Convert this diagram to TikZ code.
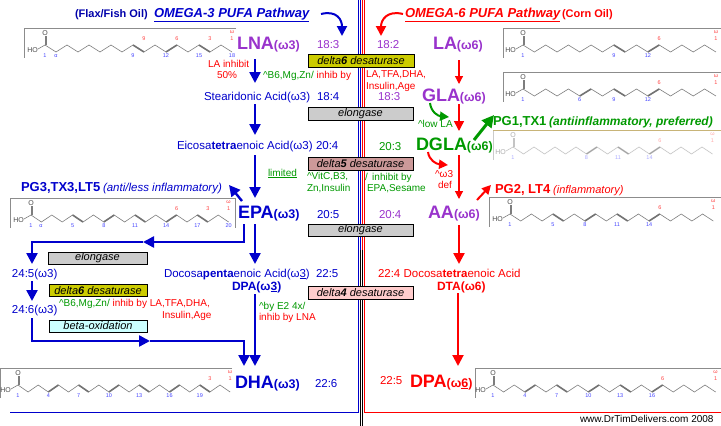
\documentclass[tikz,border=0pt]{standalone}
\usepackage{fontspec}
\setmainfont{Liberation Sans}
\usetikzlibrary{arrows.meta}
\definecolor{cblue}{RGB}{0,0,204}
\definecolor{cnavy}{RGB}{0,0,170}
\definecolor{cpurple}{RGB}{153,51,204}
\definecolor{cgreen}{RGB}{0,153,0}
\definecolor{cred}{RGB}{255,0,0}
\definecolor{dsix}{RGB}{204,204,0}
\definecolor{elong}{RGB}{204,204,204}
\definecolor{dfive}{RGB}{204,153,153}
\definecolor{dfour}{RGB}{255,204,204}
\definecolor{betaox}{RGB}{204,255,255}
\definecolor{bondgray}{RGB}{125,125,125}
\definecolor{molblue}{RGB}{70,70,255}
\definecolor{molred}{RGB}{255,70,70}
\newcommand{\fs}[1]{\fontsize{#1}{#1}\selectfont}
\newcommand{\caret}{\textasciicircum}
\tikzset{
  txt/.style={anchor=base west, inner sep=0pt, outer sep=0pt},
  main/.style={txt, font=\fs{11.5}},
  note/.style={txt, font=\fs{10}},
  enzbox/.style={draw=black, line width=0.8pt, inner sep=0pt, font=\fs{11}\itshape, minimum height=13pt},
  molbox/.style={draw=black!45, line width=0.8pt},
  bond/.style={draw=bondgray, line width=0.6pt},
  dbond/.style={draw=black!55, line width=1.6pt},
  molatom/.style={font=\fs{7}, text=black!70, inner sep=0pt},
  molnumb/.style={font=\fs{5.5}, text=molblue, inner sep=0pt},
  molnumr/.style={font=\fs{5.5}, text=molred, inner sep=0pt},
  bluearr/.style={draw=cblue, line width=2.4pt, -{Triangle[length=11pt,width=11pt]}},
  redthin/.style={draw=cred, line width=1.2pt, -{Triangle[length=8pt,width=8pt]}},
  redthick/.style={draw=cred, line width=2.4pt, -{Triangle[length=11pt,width=11pt]}},
  greenarr/.style={draw=cgreen, line width=2pt, -{Triangle[length=9pt,width=9pt]}},
}
% #1 box x0, #2 box y0, #3 box x1, #4 C1 x, #5 dx, #6 N, #7 double bonds,
% #8 double bonds with omega label, #9 label under last carbon
\newcommand{\fatacid}[9]{%
  \draw[molbox] (#3,#2) -- (#1,#2) -- (#1,#2+30);
  \draw[bond] (#4,#2+17) -- (#4,#2+8);
  \draw[bond] (#4+1.4,#2+17) -- (#4+1.4,#2+8);
  \node[molatom] at (#4,#2+5) {O};
  \draw[bond] (#4,#2+17) -- (#4-7,#2+21);
  \node[molatom, anchor=east] at (#4-7,#2+22) {HO};
  \draw[bond] (#4,#2+17) \foreach \i in {2,...,#6}{ -- ({#4+(\i-1)*#5},{#2+17+7*mod(\i+1,2)}) };
  \foreach \k in {#7}{%
    \draw[dbond] ({#4+(\k-1)*#5},{#2+17+7*mod(\k+1,2)}) -- ({#4+\k*#5},{#2+17+7*mod(\k,2)});
    \node[molnumb] at ({#4+(\k-1)*#5},#2+28) {\k};
  }
  \foreach \k in {#8}{%
    \pgfmathtruncatemacro{\om}{#6-\k}%
    \node[molnumr] at ({#4+\k*#5},#2+11) {\om};
  }
  \node[molnumb] at (#4,#2+28) {1};
  \node[molnumb] at ({#4+(#6-1)*#5},#2+28) {#9};
  \node[molnumr] at ({#4+(#6-1)*#5},#2+4) {ω};
  \node[molnumr] at ({#4+(#6-1)*#5},#2+11) {1};
}
\begin{document}
\begin{tikzpicture}[x=1pt, y=-1pt]
\useasboundingbox (0,0) rectangle (721,426);
\fill[white] (0,0) rectangle (721,426);

% ---------- divider frame ----------
\draw[cblue, line width=1pt] (358,0) -- (358,412) -- (10,412);
\draw[cblue, line width=0.9pt] (360.6,0) -- (360.6,250);
\draw[black, line width=0.9pt] (360.6,250) -- (360.6,426);
\draw[cred, line width=0.9pt] (362.6,0) -- (362.6,250);
\draw[black, line width=0.9pt] (362.6,250) -- (362.6,426);
\draw[cred, line width=1pt] (364.8,0) -- (364.8,412) -- (721,412);

% ---------- molecules ----------
\fatacid{24}{28}{236}{45}{11}{18}{9,12,15}{9,12,15}{18}
\node[molnumb] at (56,56) {α};
\fatacid{503}{28}{721}{523}{11.35}{18}{9,12}{12}{}
\fatacid{503}{72}{721}{523}{11.35}{18}{6,9,12}{12}{}
\begin{scope}[opacity=0.45]
\fatacid{493}{130}{721}{513}{10.5}{20}{8,11,14}{14}{}
\end{scope}
\draw[draw={rgb,255:red,200;green,180;blue,120}, line width=0.8pt] (493,130) -- (721,130);
\fatacid{489}{197}{721}{510}{10.7}{20}{5,8,11,14}{14}{}
\fatacid{10}{198}{235}{31}{10.4}{20}{5,8,11,14,17}{14,17}{20}
\node[molnumb] at (41,226) {α};
\draw[molbox] (235,198) -- (235,228);
\fatacid{0}{368}{232}{18}{10.1}{22}{4,7,10,13,16,19}{19}{}
\fatacid{475}{368}{721}{493}{10.6}{22}{4,7,10,13,16}{16}{}

% ---------- titles ----------
\node[txt, font=\fs{11}\bfseries, text=cnavy] (flax) at (75,17) {(Flax/Fish Oil)};
\node[txt, font=\fs{13}\bfseries\itshape, text=cblue] (om3) at (154,17) {\underline{OMEGA-3 PUFA Pathway}};
\node[txt, font=\fs{13}\bfseries\itshape, text=cred] (om6) at (405,17) {\underline{OMEGA-6 PUFA Pathway}};
\node[txt, font=\fs{11}\bfseries, text=cred] (corn) at (562,17) {(Corn Oil)};
\coordinate (om3a) at (321,14);
\coordinate (om3t) at (342,36);
\coordinate (om6a) at (403,14);
\coordinate (om6t) at (381,36);
\draw[draw=cblue, line width=2pt, -{Triangle[length=10pt,width=10pt]}] (om3a) .. controls (337,10) and (342,20) .. (om3t);
\draw[draw=cred, line width=2pt, -{Triangle[length=10pt,width=10pt]}] (om6a) .. controls (387,10) and (381,20) .. (om6t);

% ---------- omega-3 column ----------
\node[txt, font=\fs{18}\bfseries, text=cpurple] (lna) at (237,49) {LNA{\fs{12.5}(ω3)}};
\node[main, text=cpurple] (n183) at (317,48) {18:3};
\node[note, text=cred] (lainh) at (208,67) {LA inhibit};
\node[note, text=cred] (fifty) at (217,78) {50\%};
\node[note] (cof1) at (263,78) {\textcolor{cgreen}{\caret B6,Mg,Zn/} \textcolor{cred}{inhib by}};
\node[main, text=cblue] (sda) at (204,100) {Stearidonic Acid(ω3)};
\node[main, text=cblue] (n184) at (317,100) {18:4};
\node[main, text=cblue] (eta) at (177,149) {Eicosa\textbf{tetra}enoic Acid(ω3)};
\node[main, text=cblue] (n204a) at (316,149) {20:4};
\node[note, text=cgreen] (limited) at (268,176) {\underline{limited}};
\node[note, text=cgreen] (cof2a) at (307,179) {\caret VitC,B3,};
\node[note, text=cgreen] (cof2b) at (307,191) {Zn,Insulin};
\node[txt, text=cblue] (pg3) at (21,191) {{\fs{13}\bfseries PG3,TX3,LT5} {\fs{11.5}\itshape(anti/less inflammatory)}};
\node[txt, font=\fs{18}\bfseries, text=cblue] (epa) at (238,218) {EPA{\fs{12.5}(ω3)}};
\node[main, text=cblue] (n205) at (317,218) {20:5};
\node[main, text=cblue] (n245) at (12,277) {24:5(ω3)};
\node[main, text=cblue] (dpaa) at (164,277) {Docosa\textbf{penta}enoic Acid(ω\underline{3})};
\node[main, text=cblue] (n225) at (316,277) {22:5};
\node[txt, font=\fs{12}\bfseries, text=cblue] (dpa3) at (232,290) {DPA(ω\underline{3})};
\node[main, text=cblue] (n246) at (12,313) {24:6(ω3)};
\node[note] (cof3) at (59,306) {\textcolor{cgreen}{\caret B6,Mg,Zn/} \textcolor{cred}{inhib by LA,TFA,DHA,}};
\node[note, text=cred] (cof3b) at (162,318) {Insulin,Age};
\node[note, text=cgreen] (cof4a) at (259,309) {\caret by E2 4x/};
\node[note, text=cred] (cof4b) at (259,320) {inhib by LNA};
\node[txt, font=\fs{18}\bfseries, text=cblue] (dha) at (235,388) {DHA{\fs{12.5}(ω3)}};
\node[main, text=cblue] (n226) at (315,387) {22:6};

% ---------- omega-6 column ----------
\node[main, text=cpurple] (n182) at (377,48) {18:2};
\node[txt, font=\fs{18}\bfseries, text=cpurple] (la) at (433,49) {LA{\fs{12.5}(ω6)}};
\node[note, text=cred] (inh1a) at (366,77) {LA,TFA,DHA,};
\node[note, text=cred] (inh1b) at (366,89) {Insulin,Age};
\node[main, text=cpurple] (n183r) at (378,100) {18:3};
\node[txt, font=\fs{18}\bfseries, text=cpurple] (gla) at (422,101) {GLA{\fs{12.5}(ω6)}};
\node[note, text=cgreen] (lowla) at (418,127) {\caret low LA};
\node[txt, text=cgreen] (pg1) at (493,125) {{\fs{13}\bfseries PG1,TX1} {\fs{12}\bfseries\itshape(antiinflammatory, preferred)}};
\node[main, text=cgreen] (n203) at (379,150) {20:3};
\node[txt, font=\fs{18}\bfseries, text=cgreen] (dgla) at (416,150) {DGLA{\fs{12.5}(ω6)}};
\node[note, text=cgreen] (inh2a) at (365,180) {/\, inhibit by};
\node[note, text=cgreen] (inh2b) at (367,191) {EPA,Sesame};
\node[note, text=cred] (w3def) at (435,177) {\caret ω3};
\node[note, text=cred] (def) at (438,188) {def};
\node[txt, text=cred] (pg2) at (495,193) {{\fs{13}\bfseries PG2, LT4} {\fs{11}\itshape(inflammatory)}};
\node[main, text=cpurple] (n204r) at (379,218) {20:4};
\node[txt, font=\fs{18}\bfseries, text=cpurple] (aa) at (428,218) {AA{\fs{12.5}(ω6)}};
\node[main, text=cred] (dta1) at (378,277) {22:4 Docosa\textbf{tetra}enoic Acid};
\node[txt, font=\fs{12}\bfseries, text=cred] (dta) at (437,290) {DTA(ω6)};
\node[main, text=cred] (n225r) at (380,384) {22:5};
\node[txt, font=\fs{18}\bfseries, text=cred] (dpa6) at (410,387) {DPA{\fs{12.5}(ω\underline{6})}};
\node[txt, font=\fs{10}, text=black] (www) at (580,422) {www.DrTimDelivers.com 2008};

% ---------- enzyme boxes ----------
\node[enzbox, fill=dsix, minimum width=106pt] (d6) at (361,60.5) {delta\textbf{6} desaturase};
\node[enzbox, fill=elong, minimum width=105pt] (el1) at (360.5,113.5) {elongase};
\node[enzbox, fill=dfive, minimum width=105pt] (d5) at (360.5,163.5) {delta\textbf{5} desaturase};
\node[enzbox, fill=elong, minimum width=105pt, minimum height=12pt] (el2) at (360.5,230) {elongase};
\node[enzbox, fill=dfour, minimum width=105pt] (d4) at (360.5,292.5) {delta\textbf{4} desaturase};
\node[enzbox, fill=elong, minimum width=99pt, minimum height=12pt] (el3) at (97.5,258) {elongase};
\node[enzbox, fill=dsix, minimum width=98pt, minimum height=12pt] (d6b) at (98,290.5) {delta\textbf{6} desaturase};
\node[enzbox, fill=betaox, minimum width=98pt, minimum height=12pt] (box) at (98,326) {beta-oxidation};

% ---------- omega-3 arrows ----------
\coordinate (a1s) at (255,59);  \coordinate (a1t) at (255,83);
\coordinate (a2s) at (255,104); \coordinate (a2t) at (255,135);
\coordinate (a3s) at (255,155); \coordinate (a3t) at (255,198);
\coordinate (a4s) at (255,224); \coordinate (a4t) at (255,264);
\coordinate (a5s) at (255,294); \coordinate (a5t) at (255,366);
\draw[bluearr] (a1s) -- (a1t);
\draw[bluearr] (a2s) -- (a2t);
\draw[bluearr] (a3s) -- (a3t);
\draw[bluearr] (a4s) -- (a4t);
\draw[bluearr] (a5s) -- (a5t);
\coordinate (pgs) at (242,201); \coordinate (pgt) at (229,185);
\draw[bluearr] (pgs) -- (pgt);
% EPA -> 24:5 loop
\coordinate (l1a) at (244,224); \coordinate (l1m) at (143,242); \coordinate (l1t) at (32,264);
\draw[bluearr] (l1a) |- (l1m);
\draw[bluearr] (l1m) -| (l1t);
% 24:5 -> 24:6
\coordinate (l2a) at (32,281); \coordinate (l2t) at (32,301);
\draw[bluearr] (l2a) -- (l2t);
% 24:6 -> DHA loop
\coordinate (l3a) at (32,318); \coordinate (l3m) at (150,341); \coordinate (l3t) at (244,366);
\draw[bluearr] (l3a) |- (l3m);
\draw[bluearr] (l3m) -| (l3t);

% ---------- omega-6 arrows ----------
\coordinate (r1s) at (459,60);  \coordinate (r1t) at (459,84);
\coordinate (r2s) at (459,104); \coordinate (r2t) at (459,131);
\coordinate (r3s) at (459,155); \coordinate (r3t) at (459,199);
\coordinate (r4s) at (459,225); \coordinate (r4t) at (459,264);
\coordinate (r5s) at (458,293); \coordinate (r5t) at (458,366);
\draw[redthin] (r1s) -- (r1t);
\draw[redthin, line width=1.5pt, -{Triangle[length=10pt,width=10pt]}] (r2s) -- (r2t);
\draw[redthin] (r3s) -- (r3t);
\draw[redthick] (r4s) -- (r4t);
\draw[redthin, line width=2pt, -{Triangle[length=11pt,width=11pt]}] (r5s) -- (r5t);
\coordinate (dgc) at (428,152); \coordinate (dgt) at (448,165);
\draw[draw=cred, line width=2pt, -{Triangle[length=9pt,width=9pt]}] (dgc) .. controls (429,160) and (436,164) .. (dgt);
\coordinate (pg2s) at (477,200); \coordinate (pg2t) at (491,185);
\draw[draw=cred, line width=2pt, -{Triangle[length=9pt,width=9pt]}] (pg2s) -- (pg2t);
\coordinate (glc) at (430,103); \coordinate (glt) at (449,117);
\draw[greenarr] (glc) .. controls (431,112) and (438,116) .. (glt);
\coordinate (pg1s) at (474,140); \coordinate (pg1t) at (494,115);
\draw[greenarr, line width=3pt, -{Triangle[length=12pt,width=12pt]}] (pg1s) -- (pg1t);
\end{tikzpicture}
\end{document}
